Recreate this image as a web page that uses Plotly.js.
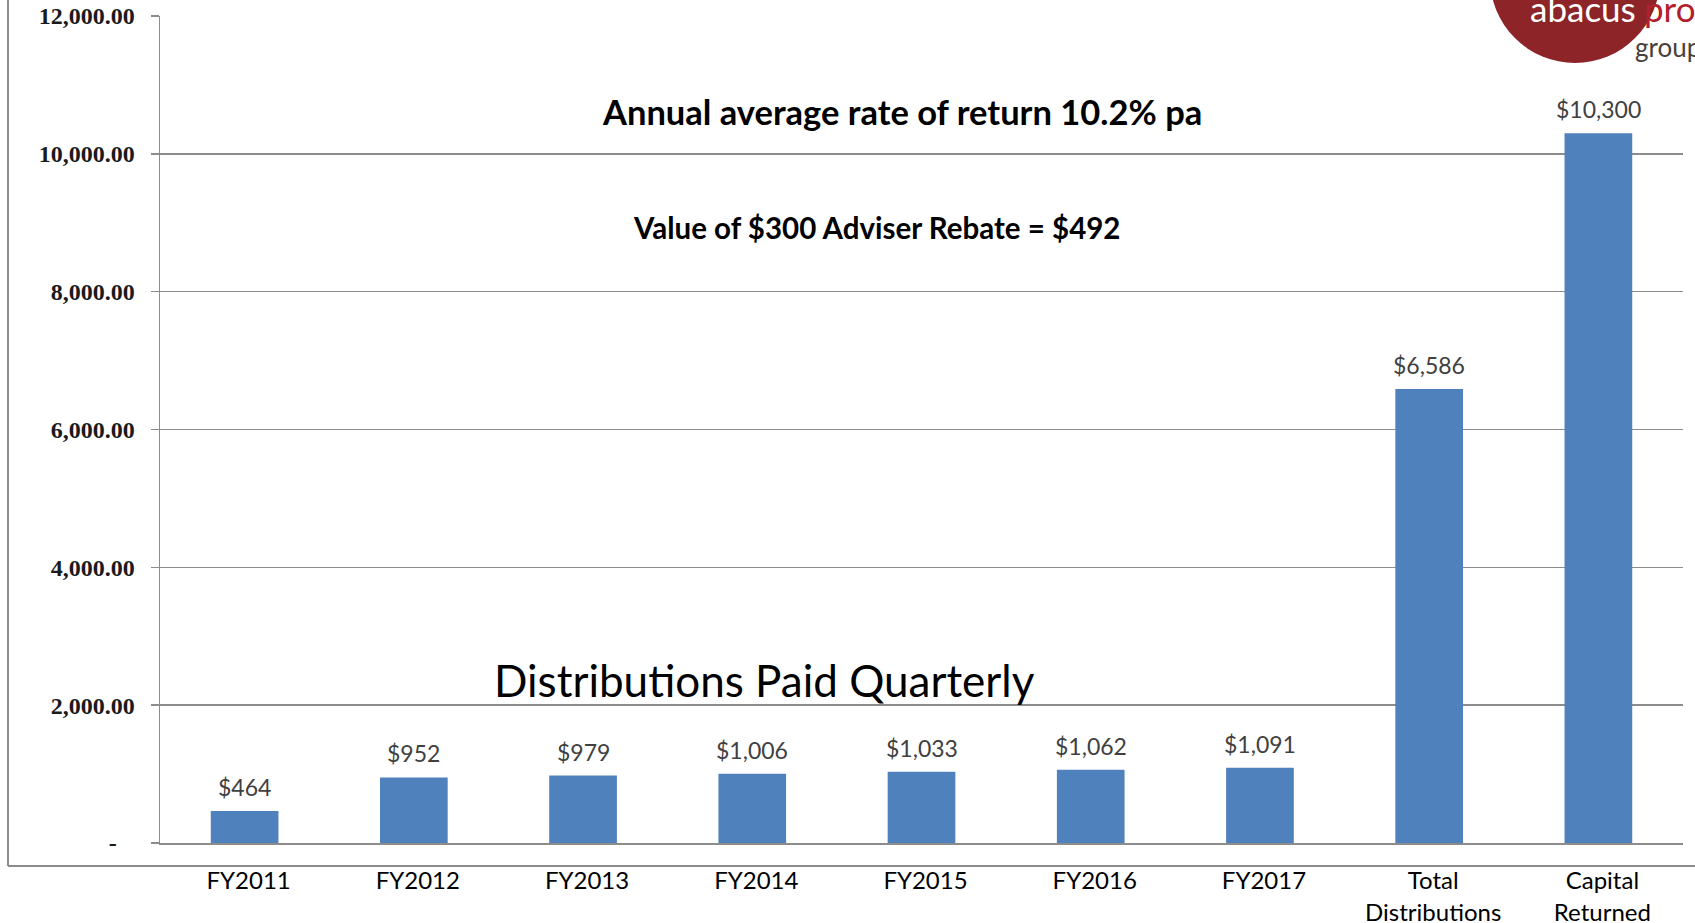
<!DOCTYPE html>
<html>
<head>
<meta charset="utf-8">
<script src="https://cdn.plot.ly/plotly-3.0.1.min.js"></script>
<style>
  html, body { margin: 0; padding: 0; background: #fff; }
  #chart { width: 1695px; height: 923px; }
</style>
</head>
<body>
<div id="chart"></div>
<script>
// ---- data ----
const categories = ["FY2011", "FY2012", "FY2013", "FY2014", "FY2015", "FY2016", "FY2017", "Total<br>Distributions", "Capital<br>Returned"];
const values = [464, 952, 979, 1006, 1033, 1062, 1091, 6586, 10300];
const valueLabels = ["$464", "$952", "$979", "$1,006", "$1,033", "$1,062", "$1,091", "$6,586", "$10,300"];
const yTickVals = [0, 2000, 4000, 6000, 8000, 10000, 12000];
const yTickText = ["-\u00a0\u00a0\u00a0", "2,000.00", "4,000.00", "6,000.00", "8,000.00", "10,000.00", "12,000.00"];
const headline = "Annual average rate of return 10.2% pa";
const subline = "Value of $300 Adviser Rebate = $492";
const sectionLabel = "Distributions Paid Quarterly";

// ---- chart ----
const trace = {
  type: "bar",
  x: categories,
  y: values,
  marker: { color: "#4f81bd" },
  hoverinfo: "x+y"
};

const labelAnnotations = categories.map((c, i) => ({
  x: c, y: values[i], xref: "x", yref: "y",
  text: valueLabels[i], showarrow: false,
  yanchor: "bottom", yshift: 8,
  font: { family: "Lato, 'Open Sans', sans-serif", size: 23, color: "#404040" }
}));

// pixel helpers for decorative frame / logo (plot area: l=160, r=12, t=16, b=80)
const W = 1695, H = 923, L = 160, R = 12, T = 16, B = 80;
const pw = W - L - R, ph = H - T - B;
const px = v => (v - L) / pw;
const py = v => (H - B - v) / ph;

const textAnnotations = [
  { x: 0.4875, y: 0.885, xref: "paper", yref: "paper", text: "<b>" + headline + "</b>", showarrow: false,
    xanchor: "center", yanchor: "middle", font: { family: "Lato, sans-serif", size: 34.5, color: "#000" } },
  { x: 0.4708, y: 0.744, xref: "paper", yref: "paper", text: "<b>" + subline + "</b>", showarrow: false,
    xanchor: "center", yanchor: "middle", font: { family: "Lato, sans-serif", size: 29.5, color: "#000" } },
  { x: 0.397, y: 0.197, xref: "paper", yref: "paper", text: sectionLabel, showarrow: false,
    xanchor: "center", yanchor: "middle", font: { family: "Lato, sans-serif", size: 44, color: "#000" } },
  // logo texts
  { x: px(1528), y: py(8), xref: "paper", yref: "paper", text: "abacus", showarrow: false,
    xanchor: "left", yanchor: "middle",
    font: { family: "Lato, sans-serif", size: 35, color: "#ffffff" } },
  { x: px(1642), y: py(8), xref: "paper", yref: "paper", text: "pro", showarrow: false,
    xanchor: "left", yanchor: "middle",
    font: { family: "Lato, sans-serif", size: 35, color: "#b3202d" } },
  { x: px(1633), y: py(47), xref: "paper", yref: "paper", text: "group", showarrow: false,
    xanchor: "left", yanchor: "middle",
    font: { family: "Lato, sans-serif", size: 26, color: "#4a3f3a" } }
];

const shapes = [
  // outer frame (left + bottom)
  { type: "line", xref: "paper", yref: "paper", x0: px(8), x1: px(8), y0: py(-2), y1: py(866),
    line: { color: "#8c8c8c", width: 2 } },
  { type: "line", xref: "paper", yref: "paper", x0: px(8), x1: px(1700), y0: py(866), y1: py(866),
    line: { color: "#8c8c8c", width: 2 } },
  // logo circle
  { type: "circle", xref: "paper", yref: "paper", x0: px(1490), x1: px(1660), y0: py(63), y1: py(-107),
    fillcolor: "#8c2428", line: { width: 0 }, layer: "above" }
];

const layout = {
  width: W, height: H,
  margin: { l: L, r: R, t: T, b: B, pad: 0 },
  paper_bgcolor: "#ffffff", plot_bgcolor: "#ffffff",
  showlegend: false,
  bargap: 0.6,
  xaxis: {
    type: "category",
    showgrid: false, zeroline: false,
    showline: true, linecolor: "#8c8c8c", linewidth: 1.5,
    ticks: "", ticklabelstandoff: 16, ticklabelshift: 4,
    tickfont: { family: "Lato, sans-serif", size: 24, color: "#000" },
    fixedrange: true
  },
  yaxis: {
    range: [0, 12000],
    tickvals: yTickVals, ticktext: yTickText,
    showgrid: true, gridcolor: "#8c8c8c", gridwidth: 1.5,
    zeroline: false,
    showline: true, linecolor: "#8c8c8c", linewidth: 1.5,
    ticks: "outside", ticklen: 8, tickcolor: "#8c8c8c", tickwidth: 1.5,
    ticklabelstandoff: 11,
    tickfont: { family: "'Liberation Serif', 'DejaVu Serif', serif", size: 24, color: "#1a1a1a", weight: "bold" },
    fixedrange: true
  },
  shapes: shapes,
  annotations: labelAnnotations.concat(textAnnotations)
};

Plotly.newPlot("chart", [trace], layout, { displayModeBar: false, staticPlot: true });
</script>
</body>
</html>
